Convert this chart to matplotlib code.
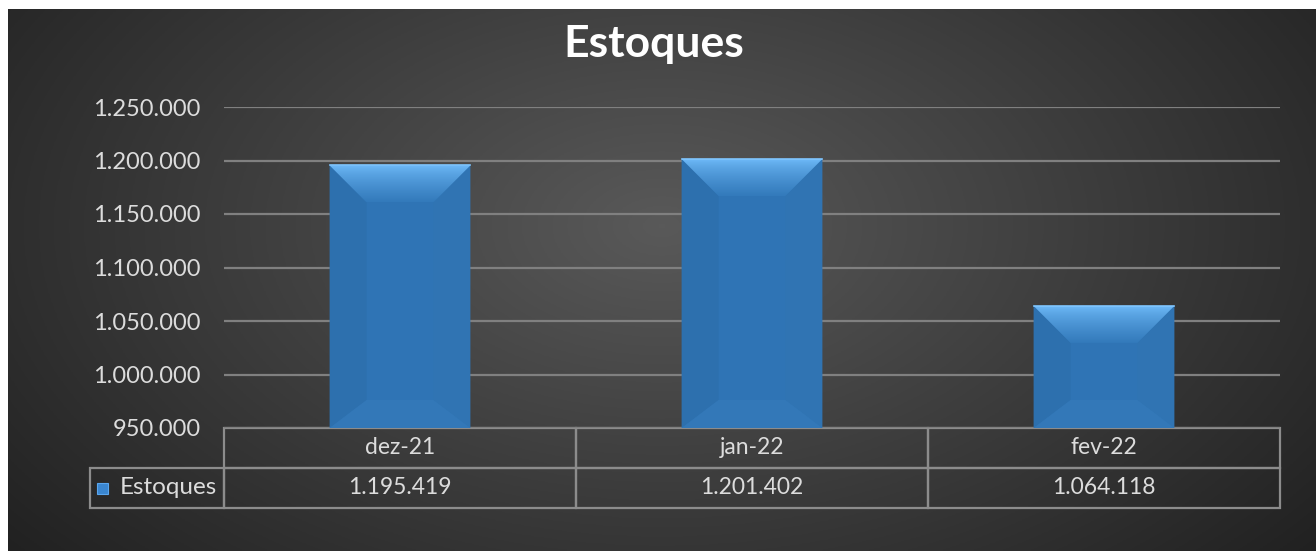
import numpy as np
import matplotlib
matplotlib.use("Agg")
import matplotlib.pyplot as plt
from matplotlib.patches import Polygon, Rectangle

categories = ['dez-21', 'jan-22', 'fev-22']
values = [1195419, 1201402, 1064118]
series_name = 'Estoques'
y_ticks = [950000, 1000000, 1050000, 1100000, 1150000, 1200000, 1250000]

W, H = 1316, 551
FONT = 'Lato'
TXT = '#dcdcdc'
BLUE = '#2f74b5'


def fmt(v):
    return '{:,}'.format(v).replace(',', '.')


def px(x0, y0, x1, y1):
    # pixel box (top-left origin) -> figure fraction
    return [x0 / W, 1 - y1 / H, (x1 - x0) / W, (y1 - y0) / H]


fig = plt.figure(figsize=(W / 100, H / 100), dpi=100, facecolor='white')

# dark radial background
bg = fig.add_axes(px(8, 9, W, H))
bg.set_axis_off()
gx, gy = np.meshgrid(np.linspace(0, 1, 400), np.linspace(0, 1, 200))
r = np.sqrt(((gx - 0.5) / 0.62) ** 2 + ((gy - 0.4) / 0.9) ** 2)
shade = np.clip(0.35 - 0.21 * r, 0.13, 0.35)
bg.imshow(np.dstack([shade] * 3), aspect='auto', extent=[0, 1, 1, 0])
bg.set_xlim(0, 1)
bg.set_ylim(1, 0)

fig.text(654 / W, 1 - 44 / H, 'Estoques', ha='center', va='center',
         color='white', fontsize=32, fontweight='bold', family=FONT)

ax = fig.add_axes(px(224, 107, 1280, 428))
ax.patch.set_alpha(0)
y_min, y_max = y_ticks[0], y_ticks[-1]
x = np.arange(len(categories))
ax.set_yticks(y_ticks)
ax.set_yticklabels([fmt(t) for t in y_ticks])
ax.set_xticks([])
ax.tick_params(axis='y', length=0, pad=17, labelcolor=TXT, labelsize=17)
for lab in ax.get_yticklabels():
    lab.set_family(FONT)
for s in ax.spines.values():
    s.set_visible(False)
ax.yaxis.grid(True, color='#808080', lw=1.6)
ax.set_axisbelow(True)

heights = [v - y_min for v in values]
bars = ax.bar(x, heights, bottom=y_min, width=0.4, color=BLUE, zorder=3)

# bevel faces, sized in pixels and converted to data units
xu = 1.0 / 352
yu = 50000 / 53.5
for b in bars:
    x0, y0 = b.get_x(), b.get_y()
    x1, y1 = x0 + b.get_width(), y0 + b.get_height()
    bx, bt, bb = 37 * xu, 37 * yu, 28 * yu
    left = Polygon([(x0, y0), (x0 + bx, y0 + bb), (x0 + bx, y1 - bt), (x0, y1)],
                   closed=True, fc='#2d70ae', ec='none', zorder=4)
    right = Polygon([(x1, y0), (x1 - bx, y0 + bb), (x1 - bx, y1 - bt), (x1, y1)],
                    closed=True, fc='#3074b3', ec='none', zorder=4)
    bottom = Polygon([(x0, y0), (x1, y0), (x1 - bx, y0 + bb), (x0 + bx, y0 + bb)],
                     closed=True, fc='#3378b8', ec='none', zorder=4)
    ax.add_patch(left)
    ax.add_patch(right)
    ax.add_patch(bottom)
    top = Polygon([(x0, y1), (x1, y1), (x1 - bx, y1 - bt), (x0 + bx, y1 - bt)],
                  closed=True, fc='none', ec='none', zorder=5)
    ax.add_patch(top)
    grad = np.linspace(0, 1, 64)[:, None]
    c0 = np.array([0x70, 0xbc, 0xfa]) / 255
    c1 = np.array([0x33, 0x7a, 0xbb]) / 255
    img = c0 + (c1 - c0) * (grad ** 0.7)[..., None]
    img = np.repeat(img, 2, axis=1)
    im = ax.imshow(img, extent=[x0, x1, y1 - bt, y1], aspect='auto',
                   origin='upper', zorder=5)
    im.set_clip_path(top)
    # thin bright line along top edge
    ax.plot([x0, x1], [y1, y1], color='#80c6ff', lw=1.2, zorder=6)
ax.set_xlim(-0.5, len(categories) - 0.5)
ax.set_ylim(y_min, y_max)

# data table below the plot (first column holds the series label)
plot_w = 1280 - 224
plot_h = 428 - 107
lab_w = 134 / plot_w
tbl_h = 80 / plot_h
tbl = ax.table(cellText=[[series_name] + [fmt(v) for v in values]],
               colLabels=[''] + categories,
               colWidths=[lab_w] + [1 / len(categories)] * len(categories),
               cellLoc='center',
               bbox=[-lab_w, -tbl_h, 1 + lab_w, tbl_h])
tbl.auto_set_font_size(False)
for (row, col), cell in tbl.get_celld().items():
    cell.set_facecolor('none')
    cell.set_edgecolor('#8c8c8c')
    cell.set_linewidth(1.6)
    cell.get_text().set_color(TXT)
    cell.get_text().set_fontsize(16.5)
    cell.get_text().set_family(FONT)
    if row == 0 and col == 0:
        cell.visible_edges = ''
    if row == 1 and col == 0:
        cell.get_text().set_ha('right')
        cell.PAD = 0.05
        cell.get_text().set_fontsize(17.5)

# legend key inside series label cell
ax.add_patch(Rectangle((-lab_w + 7 / plot_w, -tbl_h + 14 / plot_h), 11 / plot_w, 11 / plot_h,
                       transform=ax.transAxes, fc='#3a86d0', ec='#5aa6ee', lw=0.8,
                       clip_on=False, zorder=7))

fig.savefig('out.png', dpi=100, facecolor=fig.get_facecolor())
